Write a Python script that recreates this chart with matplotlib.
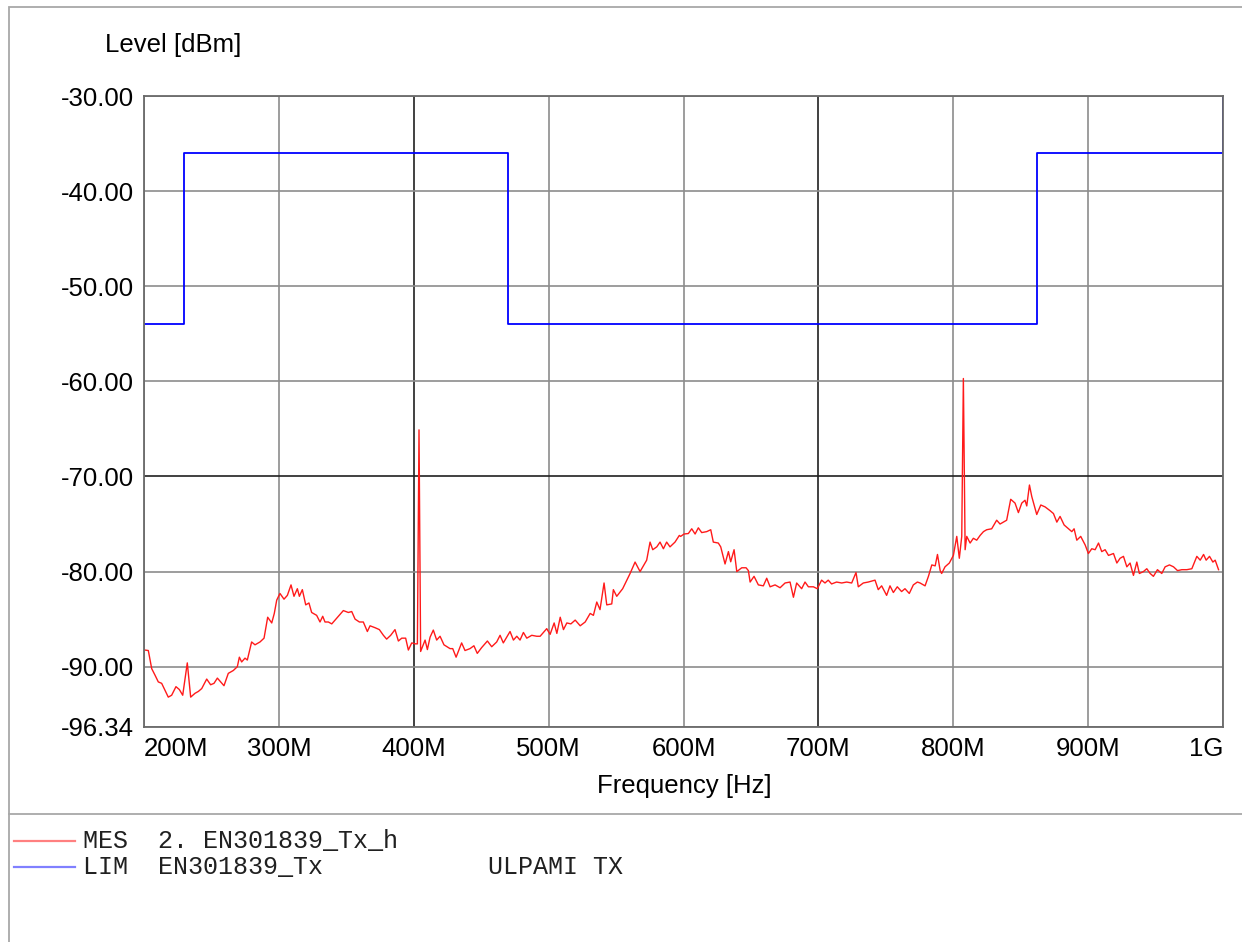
import matplotlib
matplotlib.use("Agg")
import matplotlib.pyplot as plt
from matplotlib.patches import Rectangle
from matplotlib.lines import Line2D

# Messkurve (MHz, dBm)
mes_freq = [
    200.7, 203.2, 205.7, 208.2, 210.6, 213.1, 215.6, 218.0, 220.5, 223.7,
    226.2, 228.7, 232.1, 234.6, 237.8, 240.3, 242.8, 246.5, 249.4, 251.9,
    254.4, 256.8, 259.3, 262.5, 266.2, 269.2, 270.7, 272.4, 274.9, 276.6,
    279.8, 282.3, 286.0, 289.0, 291.7, 294.7, 296.6, 298.4, 300.8, 303.8,
    306.3, 309.0, 311.2, 313.7, 315.2, 317.4, 319.9, 322.3, 324.3, 328.0,
    330.5, 332.5, 334.2, 336.7, 339.2, 344.1, 347.8, 351.5, 354.0, 356.5,
    359.7, 362.6, 365.6, 367.6, 371.3, 374.5, 377.5, 379.9, 382.9, 386.1,
    388.6, 391.1, 394.0, 396.0, 398.5, 401.2, 402.7, 403.9, 405.1, 408.4,
    410.1, 412.1, 414.5, 417.0, 419.5, 422.4, 426.9, 428.9, 431.4, 435.5,
    438.0, 441.7, 444.6, 447.1, 450.3, 454.6, 457.8, 461.5, 464.0, 466.4,
    471.4, 473.9, 476.4, 478.8, 481.3, 483.8, 487.5, 491.2, 493.7, 498.6,
    501.1, 504.1, 506.1, 508.6, 511.0, 513.5, 516.5, 519.7, 523.4, 527.1,
    530.8, 533.2, 535.7, 538.1, 541.1, 543.1, 546.8, 548.0, 550.5, 554.9,
    560.4, 564.1, 567.8, 572.7, 575.2, 577.2, 580.2, 582.6, 585.1, 587.5,
    590.0, 593.7, 596.9, 597.9, 600.4, 603.6, 606.1, 608.6, 611.0, 613.5,
    617.2, 620.2, 622.1, 625.8, 627.6, 630.8, 633.3, 635.0, 637.5, 639.5,
    643.2, 646.4, 648.1, 649.4, 652.3, 655.5, 659.2, 661.7, 664.2, 667.9,
    671.6, 675.3, 679.0, 681.5, 683.9, 687.6, 690.1, 692.6, 696.3, 699.2,
    702.4, 704.9, 707.3, 709.8, 713.5, 717.3, 721.0, 724.7, 727.9, 729.6,
    733.3, 737.0, 742.0, 744.4, 746.9, 750.6, 753.1, 755.6, 758.5, 761.7,
    764.2, 767.4, 770.4, 773.4, 775.4, 779.1, 781.6, 784.1, 786.6, 788.3,
    790.3, 791.4, 793.9, 797.1, 800.1, 802.6, 804.5, 806.3, 807.5, 808.8,
    810.0, 812.5, 814.9, 817.4, 819.9, 822.4, 824.8, 828.5, 832.2, 834.7,
    839.6, 842.6, 845.8, 848.3, 850.8, 853.2, 854.5, 856.5, 858.2, 861.9,
    864.9, 868.1, 871.8, 874.3, 876.8, 879.2, 882.2, 885.4, 887.9, 889.6,
    891.6, 894.5, 897.8, 900.2, 902.7, 905.2, 907.7, 910.1, 912.6, 915.1,
    918.8, 921.3, 923.7, 926.2, 928.7, 931.1, 933.6, 936.1, 938.0, 941.0,
    943.5, 946.0, 948.4, 951.4, 954.6, 957.1, 960.3, 963.3, 966.3, 969.5,
    973.2, 976.9, 980.6, 983.1, 985.6, 987.5, 990.0, 992.5, 994.2, 996.7,
]
mes_level = [
    -88.25, -88.3, -90.2, -90.9, -91.6, -91.75, -92.5, -93.2, -93.0, -92.1,
    -92.4, -93.0, -89.6, -93.2, -92.8, -92.6, -92.3, -91.3, -91.9, -91.75,
    -91.2, -91.6, -92.0, -90.7, -90.4, -90.0, -89.0, -89.5, -89.1, -89.3,
    -87.4, -87.7, -87.4, -87.0, -84.8, -85.4, -84.4, -83.0, -82.3, -82.9,
    -82.5, -81.4, -82.6, -81.8, -82.6, -81.9, -83.5, -83.3, -84.3, -84.6,
    -85.3, -84.7, -85.3, -85.3, -85.5, -84.7, -84.1, -84.3, -84.2, -85.0,
    -85.3, -85.3, -86.3, -85.7, -85.9, -86.1, -86.7, -87.1, -86.7, -86.1,
    -87.3, -87.0, -87.0, -88.25, -87.5, -87.6, -87.6, -65.1, -88.4, -87.2,
    -88.2, -86.9, -86.15, -87.2, -86.8, -87.7, -88.1, -88.1, -89.0, -87.5,
    -88.3, -88.1, -87.8, -88.6, -88.0, -87.3, -87.9, -87.4, -86.7, -87.5,
    -86.3, -87.2, -86.8, -87.2, -86.4, -87.0, -86.7, -86.8, -86.8, -86.0,
    -86.6, -85.4, -86.5, -84.8, -86.1, -85.4, -85.5, -85.1, -85.7, -85.3,
    -84.4, -84.6, -83.2, -84.0, -81.2, -83.5, -83.4, -81.9, -82.6, -81.8,
    -80.2, -79.0, -80.0, -78.8, -76.9, -77.7, -77.4, -76.9, -77.6, -76.9,
    -77.4, -76.9, -76.2, -76.3, -76.05, -76.0, -75.5, -76.05, -75.4, -75.9,
    -75.8, -75.6, -76.9, -77.0, -77.4, -79.2, -77.9, -78.97, -77.7, -80.0,
    -79.6, -79.6, -79.9, -81.1, -80.5, -81.4, -81.5, -80.7, -81.6, -81.4,
    -81.7, -81.2, -81.1, -82.7, -81.2, -81.8, -81.1, -81.6, -81.6, -81.8,
    -80.9, -81.2, -80.9, -81.3, -81.1, -81.2, -81.1, -81.2, -80.1, -81.6,
    -81.2, -81.1, -80.9, -81.9, -81.5, -82.5, -81.5, -82.2, -81.6, -82.1,
    -81.8, -82.3, -81.4, -81.1, -81.2, -81.5, -80.5, -79.3, -79.4, -78.2,
    -79.9, -80.2, -79.5, -79.1, -78.3, -76.3, -78.6, -76.3, -59.7, -77.7,
    -76.3, -77.0, -76.5, -76.7, -76.2, -75.8, -75.6, -75.5, -74.6, -75.0,
    -74.6, -72.4, -72.8, -73.8, -72.8, -72.5, -73.1, -70.9, -72.1, -74.0,
    -73.0, -73.2, -73.6, -73.9, -74.8, -74.2, -75.1, -75.5, -75.8, -75.5,
    -76.7, -76.3, -77.2, -78.1, -77.6, -77.7, -77.0, -77.9, -77.7, -78.3,
    -78.1, -79.1, -78.6, -78.4, -79.5, -79.1, -80.4, -79.0, -80.2, -80.0,
    -79.7, -80.2, -80.5, -79.8, -80.2, -79.5, -79.3, -79.5, -79.9, -79.8,
    -79.8, -79.7, -78.4, -78.8, -78.2, -78.8, -78.4, -79.0, -78.8, -79.8,
]

# Grenzwertlinie
lim_freq = [200, 230, 230, 470, 470, 862, 862, 1000, 1000]
lim_level = [-54, -54, -36, -36, -54, -54, -36, -36, -30]

x_ticks = [200, 300, 400, 500, 600, 700, 800, 900, 1000]
x_labels = ["200M", "300M", "400M", "500M", "600M", "700M", "800M", "900M", "1G"]
y_ticks = [-30, -40, -50, -60, -70, -80, -90, -96.34]

legend_rows = [
    ("MES  2. EN301839_Tx_h", "#ff8080"),
    ("LIM  EN301839_Tx           ULPAMI TX", "#8080ff"),
]

W, H = 1242, 942
fig = plt.figure(figsize=(W / 100, H / 100), dpi=100)

# Rahmen und Trennlinie
fig.add_artist(Rectangle((9 / W, -0.01), 1.05, 1 - 7 / H + 0.01, transform=fig.transFigure,
                         fill=False, edgecolor="#a8a8a8", linewidth=1.3))
fig.add_artist(Line2D([9 / W, 1.0], [1 - 814 / H] * 2, transform=fig.transFigure,
                      color="#a8a8a8", linewidth=1.3))

ax = fig.add_axes([144 / W, (H - 727) / H, (1223 - 144) / W, (727 - 96) / H])

ax.plot(mes_freq, mes_level, color="#ff1a1a", linewidth=1.0)
ax.plot(lim_freq, lim_level, color="#0000ff", linewidth=1.3)

ax.set_xlim(200, 1000)
ax.set_ylim(-96.34, -30)
ax.set_xticks(x_ticks)
ax.set_xticklabels(x_labels)
ax.set_yticks(y_ticks)
ax.set_yticklabels([f"{v:.2f}" for v in y_ticks])
ax.tick_params(length=0, labelsize=18.5, pad=7)
for lbl in ax.get_xticklabels() + ax.get_yticklabels():
    lbl.set_fontfamily("Liberation Sans")
ax.get_xticklabels()[0].set_ha("left")
ax.get_xticklabels()[-1].set_ha("right")

ax.grid(True, color="#8c8c8c", linewidth=1.2)
for i in (2, 5):
    ax.get_xgridlines()[i].set_color("#202020")
ax.get_ygridlines()[4].set_color("#202020")
for s in ax.spines.values():
    s.set_color("#6a6a6a")
    s.set_linewidth(1.3)

fig.text(173 / W, 1 - 45 / H, "Level [dBm]", ha="center", va="center",
         fontsize=18.5, family="Liberation Sans")
fig.text(684 / W, 1 - 786 / H, "Frequency [Hz]", ha="center", va="center",
         fontsize=18.5, family="Liberation Sans")

# Legende
for k, (txt, col) in enumerate(legend_rows):
    y = 1 - (841 + 26 * k) / H
    fig.add_artist(Line2D([14 / W, 75 / W], [y, y], transform=fig.transFigure,
                          color=col, linewidth=1.6))
    fig.text(83 / W, y, txt, ha="left", va="center", fontsize=18,
             family="Liberation Mono", color="#202020")

fig.savefig("out.png", dpi=100)
